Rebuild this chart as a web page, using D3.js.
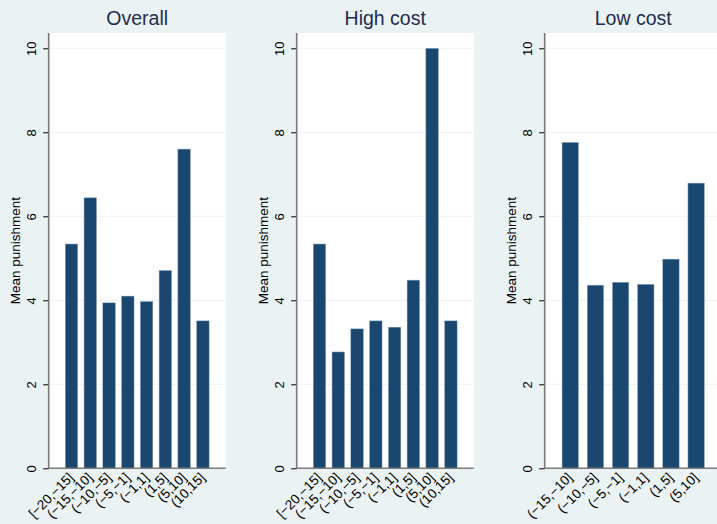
<!DOCTYPE html>
<html><head><meta charset="utf-8">
<script src="https://cdn.jsdelivr.net/npm/d3@7"></script>
<style>body{margin:0;background:#EAF2F3;} svg{display:block;}</style>
</head><body>
<svg id="chart" width="717" height="524"></svg>
<script>
const panelTitles = ["Overall", "High cost", "Low cost"];
const catsFull = ["[−20,−15]", "(−15,−10]", "(−10,−5]", "(−5,−1]", "(−1,1]", "(1,5]", "(5,10]", "(10,15]"];
const catsLow = ["(−15,−10]", "(−10,−5]", "(−5,−1]", "(−1,1]", "(1,5]", "(5,10]"];
const overallVals = [5.34, 6.44, 3.94, 4.10, 3.97, 4.71, 7.60, 3.51];
const highVals = [5.34, 2.77, 3.32, 3.51, 3.36, 4.48, 10.0, 3.51];
const lowVals = [7.76, 4.36, 4.43, 4.38, 4.98, 6.79];
const yTicks = [0, 2, 4, 6, 8, 10];
const yTitle = "Mean punishment";

const panels = [
  {title: panelTitles[0], cats: catsFull, vals: overallVals},
  {title: panelTitles[1], cats: catsFull, vals: highVals},
  {title: panelTitles[2], cats: catsLow, vals: lowVals}
];

const svg = d3.select("#chart");
svg.append("rect").attr("width", 717).attr("height", 524).attr("fill", "#EAF2F3");

const font = "'Liberation Sans', Arial, sans-serif";
const plotW = 177, plotTop = 33, plotBottom = 468.3;
const y = d3.scaleLinear().domain([0, 10]).range([468.3, 48.3]);

panels.forEach((p, i) => {
  const x0 = 48.7 + i * 248;
  const g = svg.append("g");
  const n = p.cats.length;
  const pi = n === 8 ? 0.335 : 0.35;
  const po = n === 8 ? 0.883 : 0.69;
  const x = d3.scaleBand().domain(p.cats).range([x0, x0 + plotW]).paddingInner(pi).paddingOuter(po);

  g.append("rect").attr("x", x0).attr("y", plotTop).attr("width", plotW).attr("height", plotBottom - plotTop).attr("fill", "#ffffff");

  // gridlines
  g.selectAll(".grid").data(yTicks.filter(t => t > 0)).join("line")
    .attr("x1", x0).attr("x2", x0 + plotW)
    .attr("y1", d => y(d)).attr("y2", d => y(d))
    .attr("stroke", "#EAF2F3").attr("stroke-width", 1);

  // bars
  g.selectAll(".bar").data(p.vals).join("rect")
    .attr("x", (d, k) => x(p.cats[k]))
    .attr("y", d => y(d))
    .attr("width", x.bandwidth())
    .attr("height", d => y(0) - y(d))
    .attr("fill", "#1A476F")
    .attr("stroke", "#8ea5bc").attr("stroke-width", 0.5);

  // y axis
  const yAxis = d3.axisLeft(y).tickValues(yTicks).tickSize(5.5).tickFormat(d3.format("d"));
  const ya = g.append("g").attr("transform", `translate(${x0},0)`).call(yAxis);
  ya.select(".domain").remove();
  ya.selectAll(".tick line").attr("stroke", "#000").attr("stroke-width", 1);
  ya.selectAll(".tick text").attr("x", 0).attr("dy", null)
    .attr("transform", "translate(-13,0) rotate(-90)")
    .attr("text-anchor", "middle").attr("font-family", font).attr("font-size", 13).attr("fill", "#000");
  g.append("line").attr("x1", x0).attr("x2", x0).attr("y1", plotTop).attr("y2", plotBottom)
    .attr("stroke", "#7a7a7a").attr("stroke-width", 1.6);

  // x axis
  const xAxis = d3.axisBottom(x).tickSize(0);
  const xa = g.append("g").attr("transform", `translate(0,${plotBottom})`).call(xAxis);
  xa.select(".domain").remove();
  xa.selectAll(".tick text")
    .attr("y", 0).attr("dy", null)
    .attr("transform", "translate(3,10) rotate(-45)")
    .attr("text-anchor", "end").attr("font-family", font).attr("font-size", 13.5).attr("fill", "#000");
  g.append("line").attr("x1", x0).attr("x2", x0 + plotW).attr("y1", plotBottom).attr("y2", plotBottom)
    .attr("stroke", "#7a7a7a").attr("stroke-width", 1.6);

  // y title
  g.append("text").attr("transform", `translate(${x0 - 28.5},${(plotTop + plotBottom) / 2}) rotate(-90)`)
    .attr("text-anchor", "middle").attr("font-family", font).attr("font-size", 13.5).attr("fill", "#000")
    .text(yTitle);

  // panel title
  g.append("text").attr("x", x0 + plotW / 2).attr("y", 25)
    .attr("text-anchor", "middle").attr("font-family", font).attr("font-size", 19.5).attr("fill", "#1e2c4f")
    .text(p.title);
});
</script>
</body></html>
